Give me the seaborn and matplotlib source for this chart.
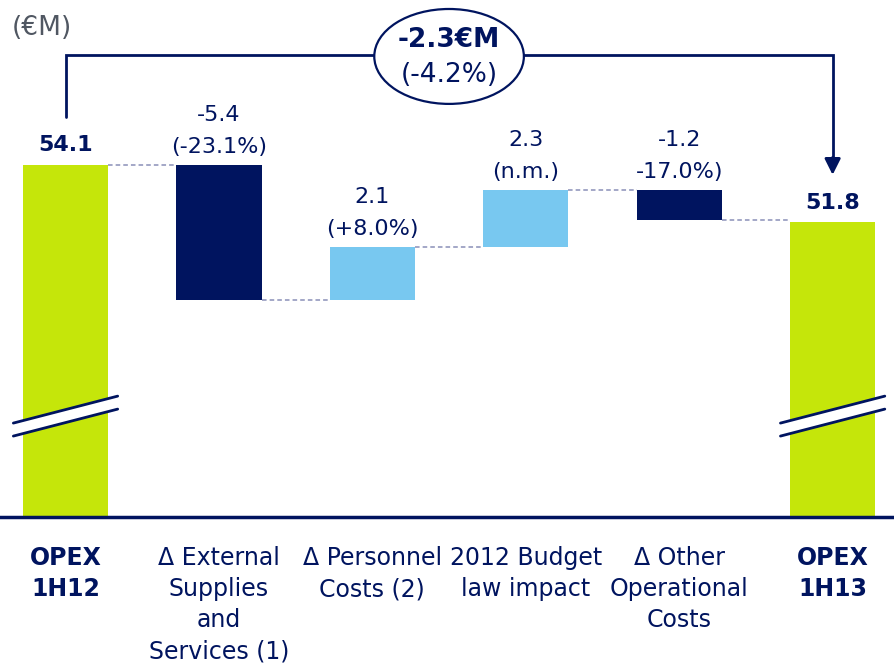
"""OPEX bridge 1H12 -> 1H13 (waterfall with broken axis)."""

import matplotlib

matplotlib.use("Agg")
import matplotlib.pyplot as plt
import numpy as np
import pandas as pd
import seaborn as sns
from matplotlib.patches import Ellipse, Polygon

# Data
categories = [
    "OPEX\n1H12",
    "Δ External\nSupplies\nand\nServices (1)",
    "Δ Personnel\nCosts (2)",
    "2012 Budget\nlaw impact",
    "Δ Other\nOperational\nCosts",
    "OPEX\n1H13",
]
opex_start = 54.1
opex_end = 51.8
changes = [-5.4, 2.1, 2.3, -1.2]
change_labels = ["-5.4", "2.1", "2.3", "-1.2"]
pct_labels = ["(-23.1%)", "(+8.0%)", "(n.m.)", "-17.0%)"]
total_labels = ["54.1", "51.8"]
bridge_labels = ["-2.3€M", "(-4.2%)"]
unit_label = "(€M)"

NAVY = "#00145f"
LIME = "#c5e60a"
LIGHT_BLUE = "#78c8f0"
CONNECTOR = "#8a90b8"
Y_FLOOR = 40.0
NUM_FONT = ["DejaVu Sans"]

sns.set_theme(style="white")
plt.rcParams["font.family"] = ["Liberation Sans Narrow", "DejaVu Sans"]


def main() -> None:
    # Running levels for the floating bars
    levels = np.concatenate([[opex_start], opex_start + np.cumsum(changes)])
    tops = [opex_start]
    bottoms = [Y_FLOOR]
    colors = [LIME]
    for i, ch in enumerate(changes):
        tops.append(max(levels[i], levels[i + 1]))
        bottoms.append(min(levels[i], levels[i + 1]))
        colors.append(NAVY if ch < 0 else LIGHT_BLUE)
    tops.append(opex_end)
    bottoms.append(Y_FLOOR)
    colors.append(LIME)

    df = pd.DataFrame(
        {"category": categories, "top": tops, "bottom": bottoms, "color": colors}
    )

    fig = plt.figure(figsize=(8.94, 6.69), dpi=100)
    ax = fig.add_axes([0, 152 / 669, 1, 517 / 669])

    bar_w = 0.555
    sns.barplot(
        data=df, x="category", y="top", hue="category",
        palette=dict(zip(categories, colors)), legend=False,
        width=bar_w, saturation=1, linewidth=0, ax=ax,
    )
    # hide the part below each floating bar
    sns.barplot(
        data=df, x="category", y="bottom", color="white",
        width=bar_w + 0.01, saturation=1, linewidth=0, ax=ax,
    )

    ax.set_xlim(-0.427, 5.40)
    ax.set_ylim(Y_FLOOR, 60.7)

    # dashed connectors
    for i in range(len(levels)):
        ax.plot(
            [i + bar_w / 2, i + 1 - bar_w / 2], [levels[i], levels[i]],
            ls=(0, (3, 2)), lw=1.1, color=CONNECTOR, zorder=3,
        )

    # value labels
    for i, (val, pct) in enumerate(zip(change_labels, pct_labels), start=1):
        ax.annotate(pct, (i, tops[i]), xytext=(0, 13), textcoords="offset points",
                    ha="center", va="center", fontsize=16, color=NAVY,
                    family=NUM_FONT)
        ax.annotate(val, (i, tops[i]), xytext=(0, 36), textcoords="offset points",
                    ha="center", va="center", fontsize=16, color=NAVY,
                    family=NUM_FONT)
    for i, lab in zip([0, len(categories) - 1], total_labels):
        ax.annotate(lab, (i, tops[i]), xytext=(0, 14), textcoords="offset points",
                    ha="center", va="center", fontsize=16, fontweight="bold",
                    color=NAVY, family=NUM_FONT)

    # axis break marks on the total bars
    brk, rise, gap, half = 44.3, 1.08, 0.52, 0.34
    for i in [0, len(categories) - 1]:
        x0, x1 = i - half, i + half
        y0, y1 = brk - rise / 2, brk + rise / 2
        ax.add_patch(Polygon(
            [(x0, y0), (x1, y1), (x1, y1 - gap), (x0, y0 - gap)],
            closed=True, facecolor="white", edgecolor="none", zorder=4,
        ))
        ax.plot([x0, x1], [y0, y1], color=NAVY, lw=2, zorder=5)
        ax.plot([x0, x1], [y0 - gap, y1 - gap], color=NAVY, lw=2, zorder=5)

    # bridge bracket with arrow
    last = len(categories) - 1
    level = 58.5
    ax.plot([0, 0, last, last], [tops[0] + 1.9, level, level, tops[last] + 2.4],
            color=NAVY, lw=2, zorder=5, solid_joinstyle="miter")
    ax.annotate("", xy=(last, tops[last] + 1.9), xytext=(last, tops[last] + 2.6),
                arrowprops=dict(arrowstyle="-|>,head_length=0.8,head_width=0.4",
                                color=NAVY, lw=2, shrinkA=0, shrinkB=0),
                zorder=6)
    ax.add_patch(Ellipse((last / 2, 58.44), 0.975, 3.8, facecolor="white",
                         edgecolor=NAVY, lw=1.6, zorder=6))
    ax.text(last / 2, 59.1, bridge_labels[0], ha="center", va="center",
            fontsize=19, fontweight="bold", color=NAVY, zorder=7,
            family=NUM_FONT)
    ax.text(last / 2, 57.7, bridge_labels[1], ha="center", va="center",
            fontsize=19, color=NAVY, zorder=7, family=NUM_FONT)

    fig.text(12 / 894, 1 - 28 / 669, unit_label, ha="left", va="center",
             fontsize=19, color="#505762", family=NUM_FONT)

    # axes cosmetics
    for side in ["top", "left", "right"]:
        ax.spines[side].set_visible(False)
    ax.spines["bottom"].set_color(NAVY)
    ax.spines["bottom"].set_linewidth(2.5)
    ax.set_yticks([])
    ax.set_xlabel("")
    ax.set_ylabel("")
    ax.tick_params(axis="x", length=0, pad=21)
    ax.set_xticks(range(len(categories)))
    ax.set_xticklabels(categories, fontsize=17, color=NAVY, va="top",
                       linespacing=1.37)
    for i, lab in enumerate(ax.get_xticklabels()):
        lab.set_multialignment("center")
        if i in (0, last):
            lab.set_fontweight("bold")

    fig.savefig("out.png", dpi=100)


if __name__ == "__main__":
    main()
